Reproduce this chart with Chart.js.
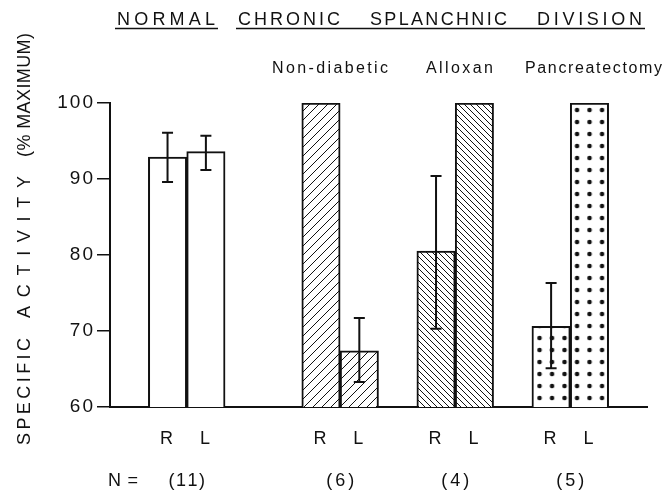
<!DOCTYPE html>
<html>
<head>
<meta charset="utf-8">
<script src="https://cdn.jsdelivr.net/npm/chart.js@4.4.1/dist/chart.umd.min.js"></script>
<style>
  html, body { margin: 0; padding: 0; background: #fff; }
  #wrap { width: 665px; height: 494px; }
</style>
</head>
<body>
<div id="wrap"><canvas id="myChart" width="665" height="494"></canvas></div>
<script>
// values (% of maximum specific activity)
const groupNames = ["Normal", "Non-diabetic", "Alloxan", "Pancreatectomy"];
const sideLabels = ["R", "L"];
const rightValues = [92.9, 100, 80.5, 70.6];
const leftValues = [93.6, 67.4, 100, 100];
const rightErrHigh = [96.1, null, 90.4, 76.3];
const rightErrLow = [89.6, null, 70.3, 65.1];
const leftErrHigh = [95.7, 71.7, null, null];
const leftErrLow = [91.2, 63.3, null, null];
const nCounts = ["(11)", "(6)", "(4)", "(5)"];
const yTicks = [60, 70, 80, 90, 100];

// layout: which category slot each group's R bar sits in
const groupSlots = [1, 5, 8, 11];
const slotCount = 14;
const FONT = "Liberation Sans";
const INK = "#111";

// build the slot arrays chart.js wants
var labels = [];
var values = [];
var slotGroup = [];
for (var i = 0; i < slotCount; i++) {
    labels.push("");
    values.push(null);
    slotGroup.push(-1);
}
for (var g = 0; g < groupNames.length; g++) {
    var s = groupSlots[g];
    labels[s] = sideLabels[0];
    labels[s + 1] = sideLabels[1];
    values[s] = rightValues[g];
    values[s + 1] = leftValues[g];
    slotGroup[s] = g;
    slotGroup[s + 1] = g;
}

// fill patterns
function hatch(step, forward) {
    const c = document.createElement("canvas");
    c.width = step; c.height = step;
    const x = c.getContext("2d");
    x.fillStyle = "#fff";
    x.fillRect(0, 0, step, step);
    x.strokeStyle = INK;
    x.lineWidth = 1;
    x.beginPath();
    if (forward) {
        x.moveTo(-1, step + 1); x.lineTo(step + 1, -1);
        x.moveTo(-1, 1); x.lineTo(1, -1);
        x.moveTo(step - 1, step + 1); x.lineTo(step + 1, step - 1);
    } else {
        x.moveTo(-1, -1); x.lineTo(step + 1, step + 1);
        x.moveTo(step - 1, -1); x.lineTo(step + 1, 1);
        x.moveTo(-1, step - 1); x.lineTo(1, step + 1);
    }
    x.stroke();
    return x.createPattern(c, "repeat");
}

function dots() {
    const c = document.createElement("canvas");
    c.width = 25; c.height = 24;
    const x = c.getContext("2d");
    x.fillStyle = "#fff";
    x.fillRect(0, 0, 25, 24);
    x.fillStyle = INK;
    [[6.25, 6], [18.75, 6], [6.25, 18], [18.75, 18]].forEach(function (p) {
        x.beginPath();
        x.arc(p[0], p[1], 2.3, 0, Math.PI * 2);
        x.fill();
    });
    return x.createPattern(c, "repeat");
}

const dotPattern = dots();
const groupFills = ["#fff", hatch(9, true), hatch(6, false), dotPattern];
var fills = slotGroup.map(function (g) { return g < 0 ? "#fff" : groupFills[g]; });

// draw letters spread evenly between x0 and x1
function spaced(ctx, text, x0, x1, y) {
    var widths = [];
    var total = 0;
    for (var k = 0; k < text.length; k++) {
        widths.push(ctx.measureText(text[k]).width);
        total += widths[k];
    }
    var gap = text.length > 1 ? (x1 - x0 - total) / (text.length - 1) : 0;
    var x = x0;
    ctx.textAlign = "left";
    for (var k = 0; k < text.length; k++) {
        ctx.fillText(text[k], x, y);
        x += widths[k] + gap;
    }
}

const figureText = {
    id: "figureText",
    beforeDraw(chart) {
        // the figure's digits and letters are set wide
        chart.ctx.letterSpacing = "2px";
    },
    beforeDatasetsDraw(chart) {
        // line the dot grid up with the pancreatectomy bars
        const xs = chart.scales.x;
        const slotW = xs.getPixelForValue(1) - xs.getPixelForValue(0);
        const barLeft = xs.getPixelForValue(groupSlots[3]) - slotW / 2;
        dotPattern.setTransform(new DOMMatrix().translate(barLeft + 7.6 - 6.25, chart.chartArea.top + 1));
    },
    afterDraw(chart) {
        const ctx = chart.ctx;
        const xs = chart.scales.x;
        const ys = chart.scales.y;
        ctx.save();
        ctx.letterSpacing = "0px";
        ctx.fillStyle = INK;
        ctx.strokeStyle = INK;

        // error bars
        ctx.lineWidth = 2;
        function errBar(slot, lo, hi) {
            if (lo == null) return;
            const x = xs.getPixelForValue(slot);
            const y0 = ys.getPixelForValue(lo);
            const y1 = ys.getPixelForValue(hi);
            ctx.beginPath();
            ctx.moveTo(x, y0); ctx.lineTo(x, y1);
            ctx.moveTo(x - 5.5, y0); ctx.lineTo(x + 5.5, y0);
            ctx.moveTo(x - 5.5, y1); ctx.lineTo(x + 5.5, y1);
            ctx.stroke();
        }
        for (var g = 0; g < groupNames.length; g++) {
            errBar(groupSlots[g], rightErrLow[g], rightErrHigh[g]);
            errBar(groupSlots[g] + 1, leftErrLow[g], leftErrHigh[g]);
        }

        // headings
        ctx.textBaseline = "alphabetic";
        ctx.font = "18px " + FONT;
        spaced(ctx, "NORMAL", 117, 215, 25);
        spaced(ctx, "CHRONIC", 238, 340, 25);
        spaced(ctx, "SPLANCHNIC", 370, 507, 25);
        spaced(ctx, "DIVISION", 537, 642, 25);
        ctx.lineWidth = 1.5;
        ctx.beginPath();
        ctx.moveTo(115, 28.5); ctx.lineTo(218, 28.5);
        ctx.moveTo(236, 28.5); ctx.lineTo(645, 28.5);
        ctx.stroke();

        ctx.font = "16px " + FONT;
        spaced(ctx, groupNames[1], 272, 388, 73);
        spaced(ctx, groupNames[2], 426, 493, 73);
        spaced(ctx, groupNames[3], 525, 662, 73);

        // N row
        ctx.font = "18px " + FONT;
        ctx.textBaseline = "middle";
        spaced(ctx, "N =", 108, 138, 481);
        for (var g = 0; g < nCounts.length; g++) {
            const cx = (xs.getPixelForValue(groupSlots[g]) + xs.getPixelForValue(groupSlots[g] + 1)) / 2;
            const w = ctx.measureText(nCounts[g]).width;
            spaced(ctx, nCounts[g], cx - w / 2 - 3, cx + w / 2 + 3, 481);
        }

        // vertical axis title
        ctx.translate(30, 0);
        ctx.rotate(-Math.PI / 2);
        ctx.textBaseline = "alphabetic";
        ctx.font = "18px " + FONT;
        spaced(ctx, "SPECIFIC", -445, -338, 0);
        spaced(ctx, "ACTIVITY", -318, -176, 0);
        spaced(ctx, "(% MAXIMUM)", -157, -33, 0);
        ctx.restore();
    }
};

const data = {
    labels: labels,
    datasets: [{
        data: values,
        backgroundColor: fills,
        borderColor: INK,
        borderWidth: 2,
        borderSkipped: "bottom",
        barPercentage: 1,
        categoryPercentage: 1
    }]
};

const config = {
    type: "bar",
    data,
    options: {
        responsive: false,
        animation: false,
        devicePixelRatio: 1,
        events: [],
        layout: { padding: { top: 103, right: 18, bottom: 0, left: 0 } },
        plugins: { legend: { display: false }, tooltip: { enabled: false } },
        scales: {
            x: {
                grid: { display: false },
                border: { display: true, color: INK, width: 2 },
                ticks: { color: INK, font: { family: FONT, size: 18 }, padding: 13, maxRotation: 0, autoSkip: false },
                afterFit(scale) { scale.height = 87; }
            },
            y: {
                min: 60,
                max: 100,
                grid: { display: true, drawOnChartArea: false, drawTicks: true, tickLength: 13, color: INK, lineWidth: 1.5 },
                border: { display: true, color: INK, width: 2 },
                ticks: { color: INK, font: { family: FONT, size: 19 }, padding: 2 },
                afterBuildTicks(scale) { scale.ticks = yTicks.map(function (v) { return { value: v }; }); },
                afterFit(scale) { scale.width = 110; }
            }
        }
    },
    plugins: [figureText]
};

var myChart = new Chart(document.getElementById("myChart"), config);
</script>
</body>
</html>
